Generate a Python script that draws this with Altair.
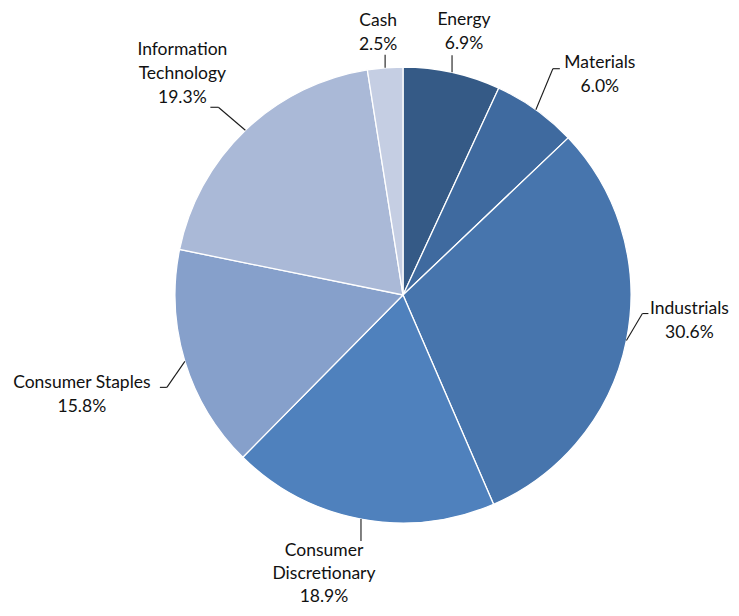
import numpy as np
import pandas as pd
import altair as alt

# ---- data ----
categories = ["Energy", "Materials", "Industrials", "Consumer Discretionary",
              "Consumer Staples", "Information Technology", "Cash"]
values = [6.9, 6.0, 30.6, 18.9, 15.8, 19.3, 2.5]
name_lines = [["Energy"], ["Materials"], ["Industrials"], ["Consumer", "Discretionary"],
              ["Consumer Staples"], ["Information", "Technology"], ["Cash"]]
colors = ["#355A86", "#3F6A9F", "#4775AD", "#4F81BD", "#86A0CB", "#AAB9D7", "#C5CEE3"]

# ---- layout (page pixels) ----
PAGE = 8
W, H = 723, 600
CX, CY, R = 403, 295, 228
FONT = "Lato"
FS = 17.5
LINE_H = 24
# leader: list of (dx, dy) points after start; label: (dx, dy) of first text line centre
leaders = {
    "Energy": ([(0, -17)], (12, -52)),
    "Materials": ([(17, -41), (24, -41)], (64, -47)),
    "Industrials": ([(16, -27), (22, -27)], (63, -32)),
    "Consumer Discretionary": ([(0, 22)], (-37, 32)),
    "Consumer Staples": ([(-18, 26), (-25, 26)], (-103, 22)),
    "Information Technology": ([(-27, -23), (-35, -23)], (-63, -80)),
    "Cash": ([(0, -13)], (-7, -47)),
}
CD_LINE_H = 23

vals = np.array(values)
total = vals.sum()
mid = (np.cumsum(vals) - vals / 2) / total * 2 * np.pi
sx = CX + R * np.sin(mid)
sy = CY - R * np.cos(mid)

pie_df = pd.DataFrame({"category": categories, "value": values, "idx": range(len(values))})

seg_rows, txt_rows = [], []
for i, cat in enumerate(categories):
    pts, lab = leaders[cat]
    prev = (sx[i], sy[i])
    for dx, dy in pts:
        nxt = (sx[i] + dx, sy[i] + dy)
        seg_rows.append({"x": prev[0], "y": prev[1], "x2": nxt[0], "y2": nxt[1]})
        prev = nxt
    lines = name_lines[i] + [f"{values[i]:.1f}%"]
    lh = CD_LINE_H if cat == "Consumer Discretionary" else LINE_H
    for j, t in enumerate(lines):
        txt_rows.append({"x": sx[i] + lab[0], "y": sy[i] + lab[1] + j * lh, "text": t})

seg_df = pd.DataFrame(seg_rows)
txt_df = pd.DataFrame(txt_rows)

xs = alt.Scale(domain=[PAGE, PAGE + W], nice=False, zero=False)
ys = alt.Scale(domain=[PAGE, PAGE + H], nice=False, zero=False, reverse=True)

pie = alt.Chart(pie_df).mark_arc(outerRadius=R, stroke="white", strokeWidth=1.3).encode(
    theta=alt.Theta("value:Q", stack=True),
    color=alt.Color("category:N", scale=alt.Scale(domain=categories, range=colors), legend=None),
    order=alt.Order("idx:Q"),
    x=alt.value(CX - PAGE),
    y=alt.value(CY - PAGE),
)

rules = alt.Chart(seg_df).mark_rule(color="#1a1a1a", strokeWidth=1.1).encode(
    x=alt.X("x:Q", scale=xs, axis=None),
    y=alt.Y("y:Q", scale=ys, axis=None),
    x2="x2:Q",
    y2="y2:Q",
)

texts = alt.Chart(txt_df).mark_text(font=FONT, fontSize=FS, color="#111111",
                                     align="center", baseline="middle").encode(
    x=alt.X("x:Q", scale=xs, axis=None),
    y=alt.Y("y:Q", scale=ys, axis=None),
    text="text:N",
)

chart = alt.layer(pie, rules, texts).properties(
    width=W, height=H, padding=0, autosize="none"
).configure_view(stroke=None)

chart.save("out.html", embed_options={"renderer": "svg", "actions": False})
